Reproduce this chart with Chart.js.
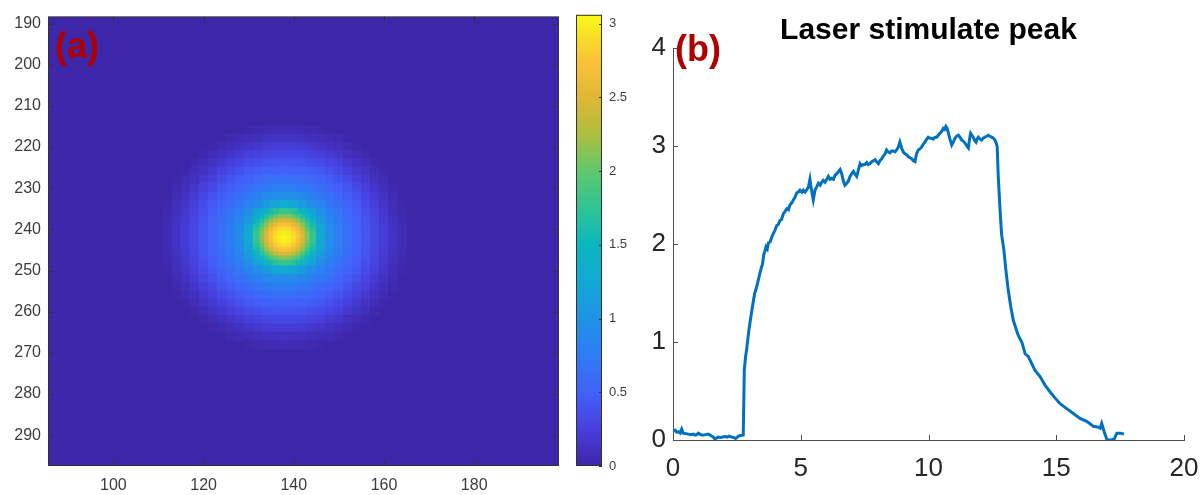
<!DOCTYPE html>
<html>
<head>
<meta charset="utf-8">
<script src="https://cdn.jsdelivr.net/npm/chart.js@4.4.1/dist/chart.umd.min.js"></script>
<style>
  html, body { margin: 0; padding: 0; background: #fff; overflow: hidden; }
  body { width: 1203px; height: 495px; position: relative; font-family: "Liberation Sans", Arial, sans-serif; }
  .pane { position: absolute; top: 0; }
  .tag { position: absolute; color: #b00000; font-weight: bold; font-size: 36px; line-height: 36px; }
</style>
</head>
<body>
<div class="pane" style="left:0"><canvas id="heatChart" width="565" height="495"></canvas></div>
<div class="pane" style="left:560px"><canvas id="barChart" width="80" height="495"></canvas></div>
<div class="pane" style="left:630px"><canvas id="lineChart" width="597" height="495"></canvas></div>
<div class="tag" style="left:55px;top:28px">(a)</div>
<div class="tag" style="left:675px;top:31px">(b)</div>

<script>
const FONT = "'Liberation Sans', Arial, sans-serif";

// ---- (a) heat map: pixel grid (x, y) and intensity ----
const xRangeA = [85.5, 198.8];
const yRangeA = [188.3, 297.5];
const xTicksA = [100, 120, 140, 160, 180];
const yTicksA = [190, 200, 210, 220, 230, 240, 250, 260, 270, 280, 290];

// halo, sampled every 2 px
const heatX = [112, 114, 116, 118, 120, 122, 124, 126, 128, 130, 132, 134, 136, 138,
               140, 142, 144, 146, 148, 150, 152, 154, 156, 158, 160, 162, 164];
const heatY = [216, 218, 220, 222, 224, 226, 228, 230, 232, 234, 236, 238, 240, 242,
               244, 246, 248, 250, 252, 254, 256, 258, 260, 262, 264, 266, 268];
const heatRows = [
  [0,0,0,0,0,0,0,0,0,0.02,0.04,0.05,0.06,0.06,0.06,0.05,0.04,0.02,0,0,0,0,0,0,0,0,0],
  [0,0,0,0,0,0,0.01,0.04,0.06,0.08,0.1,0.12,0.13,0.13,0.13,0.12,0.1,0.08,0.06,0.04,0.01,0,0,0,0,0,0],
  [0,0,0,0,0,0.02,0.06,0.09,0.12,0.15,0.18,0.2,0.22,0.22,0.22,0.2,0.18,0.15,0.12,0.09,0.06,0.02,0,0,0,0,0],
  [0,0,0,0,0.03,0.07,0.11,0.16,0.2,0.24,0.28,0.3,0.32,0.32,0.32,0.3,0.28,0.24,0.2,0.16,0.11,0.07,0.03,0,0,0,0],
  [0,0,0,0.03,0.08,0.13,0.18,0.24,0.29,0.34,0.37,0.4,0.41,0.42,0.41,0.4,0.37,0.34,0.29,0.24,0.18,0.13,0.08,0.03,0,0,0],
  [0,0,0.02,0.07,0.13,0.19,0.26,0.32,0.38,0.43,0.47,0.5,0.51,0.52,0.51,0.5,0.47,0.43,0.38,0.32,0.26,0.19,0.13,0.07,0.02,0,0],
  [0,0.01,0.06,0.11,0.18,0.26,0.33,0.4,0.46,0.51,0.57,0.61,0.63,0.64,0.63,0.61,0.57,0.51,0.46,0.4,0.33,0.26,0.18,0.11,0.06,0.01,0],
  [0,0.04,0.09,0.16,0.24,0.32,0.4,0.47,0.54,0.61,0.68,0.73,0.77,0.78,0.77,0.73,0.68,0.61,0.54,0.47,0.4,0.32,0.24,0.16,0.09,0.04,0],
  [0,0.06,0.12,0.2,0.29,0.38,0.46,0.54,0.63,0.72,0.81,0.88,0.93,0.95,0.93,0.88,0.81,0.72,0.63,0.54,0.46,0.38,0.29,0.2,0.12,0.06,0],
  [0.02,0.08,0.15,0.24,0.34,0.43,0.51,0.61,0.72,0.84,0.95,1.11,1.24,1.28,1.24,1.11,0.95,0.84,0.72,0.61,0.51,0.43,0.34,0.24,0.15,0.08,0.02],
  [0.04,0.1,0.18,0.28,0.37,0.47,0.57,0.68,0.81,0.95,1.19,1.45,1.7,1.8,1.7,1.45,1.19,0.95,0.81,0.68,0.57,0.47,0.37,0.28,0.18,0.1,0.04],
  [0.05,0.12,0.2,0.3,0.4,0.5,0.61,0.73,0.88,1.11,1.45,1.92,2.34,2.5,2.34,1.92,1.45,1.11,0.88,0.73,0.61,0.5,0.4,0.3,0.2,0.12,0.05],
  [0.06,0.13,0.22,0.32,0.41,0.51,0.63,0.77,0.93,1.24,1.7,2.34,2.78,2.92,2.78,2.34,1.7,1.24,0.93,0.77,0.63,0.51,0.41,0.32,0.22,0.13,0.06],
  [0.06,0.13,0.22,0.32,0.42,0.52,0.64,0.78,0.95,1.28,1.8,2.5,2.92,3.05,2.92,2.5,1.8,1.28,0.95,0.78,0.64,0.52,0.42,0.32,0.22,0.13,0.06],
  [0.06,0.13,0.22,0.32,0.41,0.51,0.63,0.77,0.93,1.24,1.7,2.34,2.78,2.92,2.78,2.34,1.7,1.24,0.93,0.77,0.63,0.51,0.41,0.32,0.22,0.13,0.06],
  [0.05,0.12,0.2,0.3,0.4,0.5,0.61,0.73,0.88,1.11,1.45,1.92,2.34,2.5,2.34,1.92,1.45,1.11,0.88,0.73,0.61,0.5,0.4,0.3,0.2,0.12,0.05],
  [0.04,0.1,0.18,0.28,0.37,0.47,0.57,0.68,0.81,0.95,1.19,1.45,1.7,1.8,1.7,1.45,1.19,0.95,0.81,0.68,0.57,0.47,0.37,0.28,0.18,0.1,0.04],
  [0.02,0.08,0.15,0.24,0.34,0.43,0.51,0.61,0.72,0.84,0.95,1.11,1.24,1.28,1.24,1.11,0.95,0.84,0.72,0.61,0.51,0.43,0.34,0.24,0.15,0.08,0.02],
  [0,0.06,0.12,0.2,0.29,0.38,0.46,0.54,0.63,0.72,0.81,0.88,0.93,0.95,0.93,0.88,0.81,0.72,0.63,0.54,0.46,0.38,0.29,0.2,0.12,0.06,0],
  [0,0.04,0.09,0.16,0.24,0.32,0.4,0.47,0.54,0.61,0.68,0.73,0.77,0.78,0.77,0.73,0.68,0.61,0.54,0.47,0.4,0.32,0.24,0.16,0.09,0.04,0],
  [0,0.01,0.06,0.11,0.18,0.26,0.33,0.4,0.46,0.51,0.57,0.61,0.63,0.64,0.63,0.61,0.57,0.51,0.46,0.4,0.33,0.26,0.18,0.11,0.06,0.01,0],
  [0,0,0.02,0.07,0.13,0.19,0.26,0.32,0.38,0.43,0.47,0.5,0.51,0.52,0.51,0.5,0.47,0.43,0.38,0.32,0.26,0.19,0.13,0.07,0.02,0,0],
  [0,0,0,0.03,0.08,0.13,0.18,0.24,0.29,0.34,0.37,0.4,0.41,0.42,0.41,0.4,0.37,0.34,0.29,0.24,0.18,0.13,0.08,0.03,0,0,0],
  [0,0,0,0,0.03,0.07,0.11,0.16,0.2,0.24,0.28,0.3,0.32,0.32,0.32,0.3,0.28,0.24,0.2,0.16,0.11,0.07,0.03,0,0,0,0],
  [0,0,0,0,0,0.02,0.06,0.09,0.12,0.15,0.18,0.2,0.22,0.22,0.22,0.2,0.18,0.15,0.12,0.09,0.06,0.02,0,0,0,0,0],
  [0,0,0,0,0,0,0.01,0.04,0.06,0.08,0.1,0.12,0.13,0.13,0.13,0.12,0.1,0.08,0.06,0.04,0.01,0,0,0,0,0,0],
  [0,0,0,0,0,0,0,0,0,0.02,0.04,0.05,0.06,0.06,0.06,0.05,0.04,0.02,0,0,0,0,0,0,0,0,0]
];

// bright core, sampled every 1 px
const coreX = [132, 133, 134, 135, 136, 137, 138, 139, 140, 141, 142, 143, 144];
const coreY = [236, 237, 238, 239, 240, 241, 242, 243, 244, 245, 246, 247, 248];
const coreRows = [
  [1.19,1.32,1.45,1.59,1.7,1.78,1.8,1.78,1.7,1.59,1.45,1.32,1.19],
  [1.32,1.48,1.68,1.86,2.01,2.12,2.15,2.12,2.01,1.86,1.68,1.48,1.32],
  [1.45,1.68,1.92,2.15,2.34,2.46,2.5,2.46,2.34,2.15,1.92,1.68,1.45],
  [1.59,1.86,2.15,2.42,2.6,2.71,2.75,2.71,2.6,2.42,2.15,1.86,1.59],
  [1.7,2.01,2.34,2.6,2.78,2.88,2.92,2.88,2.78,2.6,2.34,2.01,1.7],
  [1.78,2.12,2.46,2.71,2.88,2.96,3.0,2.96,2.88,2.71,2.46,2.12,1.78],
  [1.8,2.15,2.5,2.75,2.92,3.0,3.05,3.0,2.92,2.75,2.5,2.15,1.8],
  [1.78,2.12,2.46,2.71,2.88,2.96,3.0,2.96,2.88,2.71,2.46,2.12,1.78],
  [1.7,2.01,2.34,2.6,2.78,2.88,2.92,2.88,2.78,2.6,2.34,2.01,1.7],
  [1.59,1.86,2.15,2.42,2.6,2.71,2.75,2.71,2.6,2.42,2.15,1.86,1.59],
  [1.45,1.68,1.92,2.15,2.34,2.46,2.5,2.46,2.34,2.15,1.92,1.68,1.45],
  [1.32,1.48,1.68,1.86,2.01,2.12,2.15,2.12,2.01,1.86,1.68,1.48,1.32],
  [1.19,1.32,1.45,1.59,1.7,1.78,1.8,1.78,1.7,1.59,1.45,1.32,1.19]
];

// colour bar
const cMax = 3.06;
const cTicks = [0, 0.5, 1, 1.5, 2, 2.5, 3];

// ---- (b) laser stimulate peak ----
const timeS = [
  0.00, 0.08, 0.15, 0.21, 0.28, 0.34, 0.40, 0.50, 0.60, 0.70, 0.80, 0.86, 0.93, 0.99, 1.05, 1.12,
  1.19, 1.28, 1.38, 1.45, 1.51, 1.58, 1.64, 1.70, 1.77, 1.85, 1.95, 2.04, 2.12, 2.20, 2.30, 2.38,
  2.45, 2.52, 2.56, 2.65, 2.75, 2.79, 2.84, 2.88, 2.93, 2.97, 3.05, 3.14, 3.20, 3.24, 3.31, 3.40,
  3.46, 3.50, 3.55, 3.60, 3.64, 3.69, 3.73, 3.80, 3.88, 3.99, 4.06, 4.12, 4.19, 4.25, 4.32, 4.38,
  4.45, 4.52, 4.58, 4.65, 4.71, 4.78, 4.84, 4.90, 4.97, 5.05, 5.10, 5.17, 5.25, 5.30, 5.36, 5.42,
  5.49, 5.56, 5.62, 5.69, 5.76, 5.82, 5.88, 5.95, 6.02, 6.08, 6.15, 6.21, 6.28, 6.34, 6.42, 6.48,
  6.54, 6.60, 6.67, 6.73, 6.80, 6.86, 6.93, 7.00, 7.06, 7.13, 7.19, 7.26, 7.32, 7.38, 7.45, 7.51,
  7.58, 7.64, 7.71, 7.78, 7.84, 7.91, 7.97, 8.04, 8.10, 8.17, 8.24, 8.30, 8.36, 8.42, 8.49, 8.56,
  8.62, 8.69, 8.75, 8.82, 8.88, 8.95, 9.01, 9.08, 9.15, 9.21, 9.28, 9.34, 9.40, 9.47, 9.53, 9.60,
  9.66, 9.73, 9.80, 9.86, 9.93, 9.99, 10.05, 10.12, 10.19, 10.25, 10.32, 10.38, 10.45, 10.52, 10.58, 10.63,
  10.68, 10.73, 10.78, 10.84, 10.91, 10.97, 11.04, 11.10, 11.17, 11.23, 11.30, 11.36, 11.43, 11.50, 11.56, 11.60,
  11.65, 11.70, 11.75, 11.80, 11.86, 11.90, 11.95, 12.02, 12.08, 12.14, 12.21, 12.28, 12.34, 12.40, 12.47, 12.54,
  12.60, 12.65, 12.69, 12.73, 12.80, 12.86, 12.95, 13.03, 13.12, 13.22, 13.32, 13.42, 13.51, 13.65, 13.72, 13.78,
  13.91, 14.04, 14.17, 14.36, 14.56, 14.76, 14.95, 15.15, 15.41, 15.67, 15.93, 16.19, 16.45, 16.65, 16.72, 16.78,
  16.88, 16.99, 17.16, 17.27, 17.37, 17.51, 17.65
];
const signal = [
  0.09, 0.10, 0.08, 0.085, 0.07, 0.11, 0.07, 0.065, 0.06, 0.055, 0.06, 0.05, 0.055, 0.07, 0.06, 0.05,
  0.05, 0.055, 0.06, 0.05, 0.04, 0.03, 0.01, 0.02, 0.03, 0.025, 0.03, 0.035, 0.03, 0.04, 0.03, 0.025,
  0.015, 0.03, 0.04, 0.045, 0.05, 0.71, 0.85, 0.92, 1.03, 1.12, 1.26, 1.41, 1.50, 1.53, 1.60, 1.70,
  1.76, 1.79, 1.89, 1.93, 1.97, 1.95, 2.01, 2.02, 2.08, 2.14, 2.19, 2.20, 2.24, 2.25, 2.31, 2.33,
  2.36, 2.35, 2.40, 2.42, 2.45, 2.48, 2.52, 2.53, 2.55, 2.53, 2.55, 2.53, 2.56, 2.58, 2.66, 2.55,
  2.45, 2.55, 2.58, 2.62, 2.60, 2.63, 2.65, 2.63, 2.66, 2.69, 2.66, 2.67, 2.66, 2.70, 2.72, 2.74,
  2.76, 2.72, 2.64, 2.60, 2.62, 2.64, 2.69, 2.72, 2.74, 2.71, 2.69, 2.76, 2.82, 2.80, 2.81, 2.81,
  2.83, 2.81, 2.82, 2.84, 2.85, 2.86, 2.84, 2.82, 2.85, 2.87, 2.90, 2.92, 2.96, 2.94, 2.93, 2.95,
  2.95, 2.94, 2.96, 2.99, 3.04, 2.98, 2.94, 2.92, 2.91, 2.89, 2.88, 2.87, 2.85, 2.84, 2.92, 2.96,
  2.97, 2.99, 3.02, 3.04, 3.07, 3.09, 3.08, 3.08, 3.07, 3.09, 3.09, 3.11, 3.13, 3.15, 3.18, 3.17,
  3.20, 3.18, 3.13, 3.07, 3.01, 3.04, 3.08, 3.10, 3.11, 3.09, 3.06, 3.05, 3.03, 3.00, 2.98, 3.06,
  3.13, 3.11, 3.09, 3.06, 3.04, 3.07, 3.09, 3.07, 3.06, 3.08, 3.09, 3.10, 3.11, 3.10, 3.09, 3.08,
  3.06, 3.03, 2.99, 2.69, 2.35, 2.10, 1.94, 1.73, 1.53, 1.36, 1.22, 1.14, 1.07, 1.00, 0.94, 0.88,
  0.85, 0.78, 0.71, 0.65, 0.56, 0.49, 0.43, 0.37, 0.32, 0.27, 0.22, 0.19, 0.14, 0.13, 0.12, 0.17,
  0.08, 0.00, 0.00, 0.01, 0.07, 0.07, 0.06
];
const xTicksB = [0, 5, 10, 15, 20];
const yTicksB = [0, 1, 2, 3, 4];

// parula-like colour map sampled from the colour bar
const parulaStops = [
  [0.00, 62, 38, 168], [0.08, 71, 62, 220], [0.16, 67, 96, 250], [0.25, 45, 125, 245],
  [0.33, 30, 148, 228], [0.41, 18, 168, 212], [0.49, 10, 183, 190], [0.57, 45, 195, 150],
  [0.65, 95, 200, 110], [0.74, 175, 190, 60], [0.82, 225, 183, 55], [0.90, 252, 195, 55],
  [0.95, 248, 220, 40], [1.00, 249, 251, 20]
];

function parula(t) {
  t = Math.max(0, Math.min(1, t));
  for (let i = 1; i < parulaStops.length; i++) {
    const b = parulaStops[i];
    if (t <= b[0]) {
      const a = parulaStops[i - 1];
      const f = (t - a[0]) / (b[0] - a[0]);
      const c = [1, 2, 3].map(k => Math.round(a[k] + (b[k] - a[k]) * f));
      return `rgb(${c[0]},${c[1]},${c[2]})`;
    }
  }
  return 'rgb(249,251,20)';
}

function gridPoints(xs, ys, rows) {
  const pts = [];
  rows.forEach((row, r) => {
    row.forEach((v, c) => {
      if (v > 0) pts.push({ x: xs[c], y: ys[r], v: v });
    });
  });
  return pts;
}

const frameColor = '#333333';
const tickText = '#3c3c3c';

// 画背景和边框（MATLAB 风格，刻度朝内）
const heatFrame = {
  id: 'heatFrame',
  beforeDatasetsDraw(chart) {
    const { ctx, chartArea: a } = chart;
    ctx.save();
    ctx.fillStyle = parula(0);
    ctx.fillRect(a.left, a.top, a.width, a.height);
    ctx.restore();
  },
  afterDatasetsDraw(chart) {
    const { ctx, chartArea: a, scales: { x, y } } = chart;
    ctx.save();
    ctx.strokeStyle = frameColor;
    ctx.lineWidth = 1;
    ctx.beginPath();
    xTicksA.forEach(v => {
      const p = Math.round(x.getPixelForValue(v)) + 0.5;
      ctx.moveTo(p, a.bottom); ctx.lineTo(p, a.bottom - 5);
      ctx.moveTo(p, a.top); ctx.lineTo(p, a.top + 5);
    });
    yTicksA.forEach(v => {
      const p = Math.round(y.getPixelForValue(v)) + 0.5;
      ctx.moveTo(a.left, p); ctx.lineTo(a.left + 5, p);
      ctx.moveTo(a.right, p); ctx.lineTo(a.right - 5, p);
    });
    ctx.stroke();
    ctx.strokeRect(a.left + 0.5, a.top + 0.5, a.width - 1, a.height - 1);
    ctx.restore();
  }
};

// square cell covering `step` data units
function cellRadius(step) {
  return c => {
    const xs = c.chart.scales.x;
    const w = Math.abs(xs.getPixelForValue(step) - xs.getPixelForValue(0));
    return (w + 0.8) / Math.SQRT2;
  };
}

function cellDataset(points, step) {
  return {
    data: points,
    pointStyle: 'rect',
    pointRadius: cellRadius(step),
    pointHoverRadius: cellRadius(step),
    pointBorderWidth: 0,
    pointBackgroundColor: c => parula(c.raw.v / cMax),
    pointBorderColor: 'rgba(0,0,0,0)'
  };
}

new Chart(document.getElementById('heatChart'), {
  type: 'scatter',
  data: {
    datasets: [
      cellDataset(gridPoints(coreX, coreY, coreRows), 1),
      cellDataset(gridPoints(heatX, heatY, heatRows), 2)
    ]
  },
  options: {
    responsive: false,
    animation: false,
    events: [],
    layout: { padding: { top: 13, right: 6, left: 0, bottom: 0 } },
    plugins: { legend: { display: false }, tooltip: { enabled: false } },
    scales: {
      x: {
        type: 'linear', min: xRangeA[0], max: xRangeA[1],
        afterBuildTicks: s => { s.ticks = xTicksA.map(v => ({ value: v })); },
        afterFit: s => { s.height = 29; },
        grid: { display: false, drawTicks: false },
        border: { display: false },
        ticks: { autoSkip: false, maxRotation: 0, padding: 10, color: tickText, font: { family: FONT, size: 16 } }
      },
      y: {
        type: 'linear', reverse: true, min: yRangeA[0], max: yRangeA[1],
        afterBuildTicks: s => { s.ticks = yTicksA.map(v => ({ value: v })); },
        afterFit: s => { s.width = 48; },
        grid: { display: false, drawTicks: false },
        border: { display: false },
        ticks: { autoSkip: false, padding: 7, color: tickText, font: { family: FONT, size: 16 } }
      }
    }
  },
  plugins: [heatFrame]
});

// colour bar
const barPaint = {
  id: 'barPaint',
  beforeDatasetsDraw(chart) {
    const { ctx, chartArea: a, scales: { y } } = chart;
    const y0 = y.getPixelForValue(0);
    const y1 = y.getPixelForValue(cMax);
    const g = ctx.createLinearGradient(0, y0, 0, y1);
    parulaStops.forEach(s => g.addColorStop(s[0], `rgb(${s[1]},${s[2]},${s[3]})`));
    ctx.save();
    ctx.fillStyle = g;
    ctx.fillRect(a.left, a.top, a.width, a.height);
    ctx.strokeStyle = frameColor;
    ctx.lineWidth = 1;
    ctx.beginPath();
    cTicks.forEach(v => {
      const p = Math.round(y.getPixelForValue(v)) + 0.5;
      ctx.moveTo(a.right, p); ctx.lineTo(a.right - 3, p);
    });
    ctx.stroke();
    ctx.strokeRect(a.left + 0.5, a.top + 0.5, a.width - 1, a.height - 1);
    ctx.restore();
  }
};

new Chart(document.getElementById('barChart'), {
  type: 'scatter',
  data: { datasets: [{ data: [] }] },
  options: {
    responsive: false,
    animation: false,
    events: [],
    layout: { padding: { top: 13, right: 0, left: 16, bottom: 29 } },
    plugins: { legend: { display: false }, tooltip: { enabled: false } },
    scales: {
      x: { display: false, min: 0, max: 1 },
      y: {
        position: 'right', min: 0, max: cMax,
        afterBuildTicks: s => { s.ticks = cTicks.map(v => ({ value: v })); },
        afterFit: s => { s.width = 38; },
        grid: { display: false, drawTicks: false },
        border: { display: false },
        ticks: { autoSkip: false, padding: 7, color: tickText, font: { family: FONT, size: 13 }, callback: v => String(v) }
      }
    }
  },
  plugins: [barPaint]
});

// (b) inward ticks
const lineTicks = {
  id: 'lineTicks',
  afterDraw(chart) {
    const { ctx, chartArea: a, scales: { x, y } } = chart;
    ctx.save();
    ctx.strokeStyle = '#4d4d4d';
    ctx.lineWidth = 1;
    ctx.beginPath();
    xTicksB.slice(1).forEach(v => {
      const p = Math.round(x.getPixelForValue(v)) + 0.5;
      ctx.moveTo(p, a.bottom); ctx.lineTo(p, a.bottom - 5);
    });
    yTicksB.slice(1).forEach(v => {
      const p = Math.round(y.getPixelForValue(v)) + 0.5;
      ctx.moveTo(a.left, p); ctx.lineTo(a.left + 5, p);
    });
    ctx.stroke();
    ctx.restore();
  }
};

new Chart(document.getElementById('lineChart'), {
  type: 'line',
  data: {
    datasets: [{
      data: timeS.map((t, i) => ({ x: t, y: signal[i] })),
      borderColor: '#0072BD',
      borderWidth: 3,
      pointRadius: 0,
      tension: 0,
      fill: false
    }]
  },
  options: {
    responsive: false,
    animation: false,
    events: [],
    layout: { padding: { top: 0, right: 43, left: 0, bottom: 0 } },
    plugins: {
      legend: { display: false },
      tooltip: { enabled: false },
      title: {
        display: true,
        text: 'Laser stimulate peak',
        fullSize: false,
        color: '#000',
        font: { family: FONT, size: 30, weight: 'bold', lineHeight: 1.15 },
        padding: { top: 13, bottom: 0.5 }
      }
    },
    scales: {
      x: {
        type: 'linear', min: 0, max: 20,
        afterBuildTicks: s => { s.ticks = xTicksB.map(v => ({ value: v })); },
        afterFit: s => { s.height = 55; },
        grid: { drawOnChartArea: false, drawTicks: false },
        border: { display: true, color: '#4d4d4d', width: 1 },
        ticks: { autoSkip: false, maxRotation: 0, padding: 13, color: '#262626', font: { family: FONT, size: 26 } }
      },
      y: {
        type: 'linear', min: 0, max: 4,
        afterBuildTicks: s => { s.ticks = yTicksB.map(v => ({ value: v })); },
        afterFit: s => { s.width = 43; },
        grid: { drawOnChartArea: false, drawTicks: false },
        border: { display: true, color: '#4d4d4d', width: 1 },
        ticks: { autoSkip: false, padding: 7, color: '#262626', font: { family: FONT, size: 26 } }
      }
    }
  },
  plugins: [lineTicks]
});
</script>
</body>
</html>
